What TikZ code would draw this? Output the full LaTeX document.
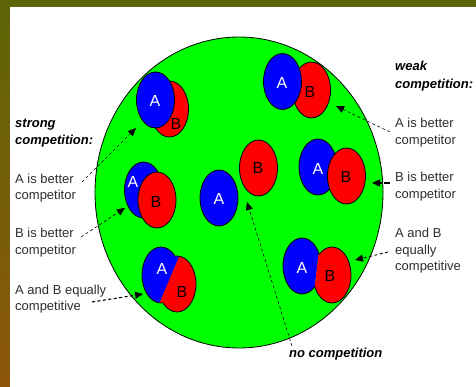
\documentclass[tikz,border=0pt]{standalone}
\usepackage{fontspec}
\setsansfont{Liberation Sans}
\usetikzlibrary{shapes.geometric,arrows.meta}
\definecolor{olivetop}{HTML}{5E6508}
\definecolor{brownbot}{HTML}{8C5608}
\definecolor{txtgray}{HTML}{2E2E2E}
\begin{document}
\begin{tikzpicture}[x=1pt, y=-1pt,
    blob/.style={ellipse, draw=black, line width=0.8pt, minimum width=38pt, minimum height=56pt, inner sep=0pt},
    spA/.style={blob, fill=blue},
    spB/.style={blob, fill=red},
    lbl/.style={font=\sffamily\fontsize{16}{16}\selectfont, inner sep=0pt},
    desc/.style={anchor=north west, align=left, inner sep=0pt, text=txtgray, font=\sffamily\fontsize{13}{16.5}\selectfont},
    head/.style={desc, text=black, font=\sffamily\bfseries\itshape\fontsize{13}{17.5}\selectfont},
    arr/.style={-{Triangle[length=8pt,width=7pt]}, line width=0.6pt, dash pattern=on 3pt off 2.5pt},
    arrthick/.style={arr, line width=1.3pt}
  ]
  % frame
  \fill[top color=olivetop, bottom color=brownbot] (0,0) rectangle (476,387);
  \fill[white] (10,7) rectangle (476,387);
  \useasboundingbox (0,0) rectangle (476,387);

  % habitat
  \node[ellipse, draw=black, fill=green, line width=0.8pt, minimum width=288pt, minimum height=311pt, inner sep=0pt] (field) at (239,192.5) {};

  % overlapping pairs
  \node[spB] (tlB) at (169.5,109) {};
  \node[spA] (tlA) at (155.5,100) {};
  \node[spB] (trB) at (311.5,90) {};
  \node[spA] (trA) at (282.5,81.5) {};
  \node[spA] (mlA) at (143.5,190) {};
  \node[spB] (mlB) at (157,200) {};
  \node[spA] (mrA) at (318,167) {};
  \node[spB] (mrB) at (346.5,176) {};
  % no overlap
  \node[spA] (soloA) at (219,198) {};
  \node[spB] (soloB) at (258.5,168) {};

  % equally competitive pairs, split along a line
  \foreach \ax/\ay/\bx/\by/\px/\py/\qx/\qy in {161/275/177/284/190.4/230/148.6/329, 302/266/332/275/321.5/228.5/311.5/314.5} {
    \begin{scope}
      \clip (\px,\py) -- (\qx,\qy) -- (\qx-60,\qy) -- (\px-60,\py) -- cycle;
      \fill[blue] (\ax,\ay) ellipse [x radius=19, y radius=28] (\bx,\by) ellipse [x radius=19, y radius=28];
    \end{scope}
    \begin{scope}
      \clip (\px,\py) -- (\qx,\qy) -- (\qx+60,\qy) -- (\px+60,\py) -- cycle;
      \fill[red] (\ax,\ay) ellipse [x radius=19, y radius=28] (\bx,\by) ellipse [x radius=19, y radius=28];
    \end{scope}
    \begin{scope}[even odd rule]
      \clip (0,0) rectangle (476,387) (\bx,\by) ellipse [x radius=19, y radius=28];
      \draw[line width=0.8pt] (\ax,\ay) ellipse [x radius=19, y radius=28];
    \end{scope}
    \begin{scope}[even odd rule]
      \clip (0,0) rectangle (476,387) (\ax,\ay) ellipse [x radius=19, y radius=28];
      \draw[line width=0.8pt] (\bx,\by) ellipse [x radius=19, y radius=28];
    \end{scope}
  }

  % species labels
  \node[lbl, text=white] (tlAl) at (155,101) {A};
  \node[lbl] (tlBl) at (176,124) {B};
  \node[lbl, text=white] (trAl) at (282,83) {A};
  \node[lbl] (trBl) at (310,92) {B};
  \node[lbl, text=white] (mlAl) at (133,182) {A};
  \node[lbl] (mlBl) at (156,202) {B};
  \node[lbl, text=white] (mrAl) at (318,169) {A};
  \node[lbl] (mrBl) at (346,177) {B};
  \node[lbl, text=white] (soloAl) at (219,199) {A};
  \node[lbl] (soloBl) at (258,168) {B};
  \node[lbl, text=white] (blAl) at (162,269) {A};
  \node[lbl] (blBl) at (182,292) {B};
  \node[lbl, text=white] (brAl) at (302,268) {A};
  \node[lbl] (brBl) at (330,276) {B};

  % captions
  \node[head] (strongT) at (15,118.5) {strong\\competition:};
  \node[desc] (leftA) at (15,173.5) {A is better\\competitor};
  \node[desc] (leftB) at (15,228) {B is better\\competitor};
  \node[desc] (leftAB) at (15,284.5) {A and B equally\\competitive};
  \node[head] (weakT) at (395,61) {weak\\competition:};
  \node[desc] (rightA) at (395,118) {A is better\\competitor};
  \node[desc] (rightB) at (395,172) {B is better\\competitor};
  \node[desc] (rightAB) at (395,228) {A and B\\equally\\competitive};
  \node[head, anchor=north west] (noT) at (289,347.5) {no competition};

  % pointers
  \coordinate (lAs) at (82,182);   \coordinate (lAe) at (136,128);
  \coordinate (lBs) at (81,237);   \coordinate (lBe) at (125,208);
  \coordinate (lABs) at (92,302);  \coordinate (lABe) at (143,294);
  \coordinate (rAs) at (390,132);  \coordinate (rAe) at (336,106);
  \coordinate (rBs) at (390,183);  \coordinate (rBe) at (372,183);
  \coordinate (rABs) at (388,252); \coordinate (rABe) at (355,260);
  \coordinate (noS) at (292,346);  \coordinate (noE) at (247,202);
  \draw[arr] (lAs) -- (lAe);
  \draw[arr] (lBs) -- (lBe);
  \draw[arrthick, line width=1.1pt] (lABs) -- (lABe);
  \draw[arr] (rAs) -- (rAe);
  \draw[arrthick, dash pattern=on 6pt off 2pt] (rBs) -- (rBe);
  \draw[arr, line width=0.9pt] (rABs) -- (rABe);
  \draw[arr] (noS) -- (noE);
\end{tikzpicture}
\end{document}
